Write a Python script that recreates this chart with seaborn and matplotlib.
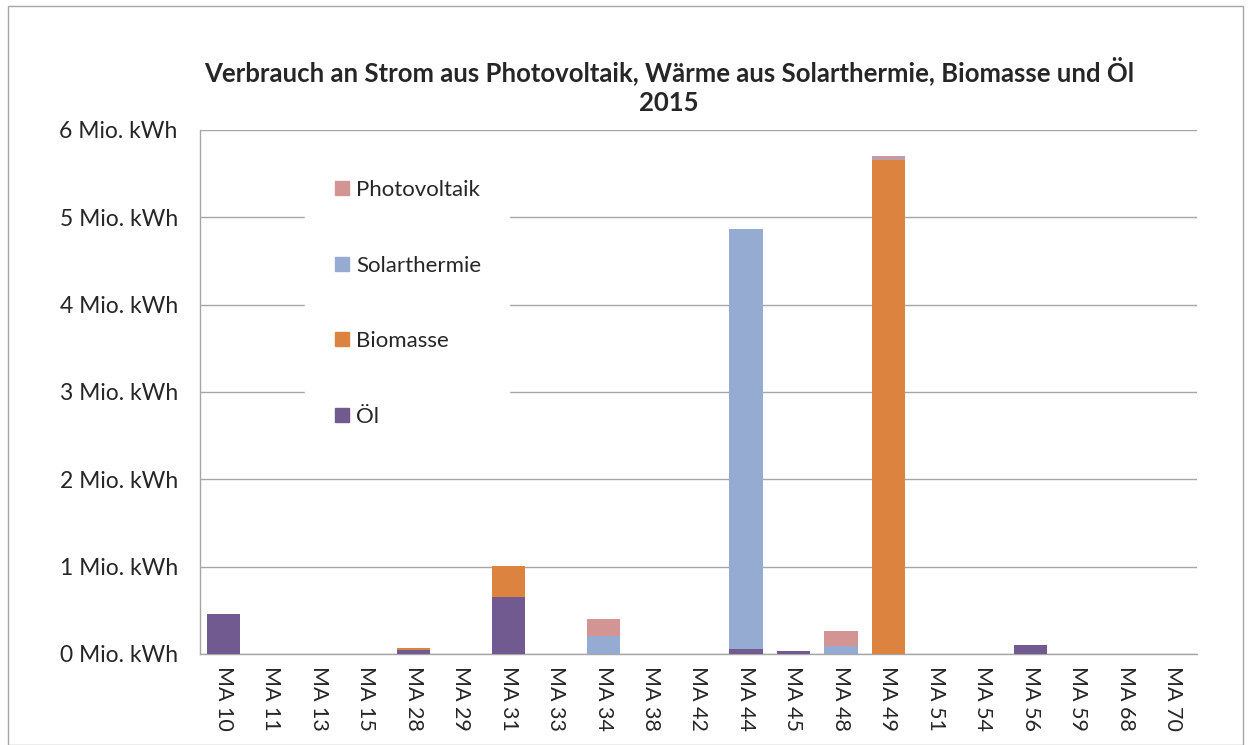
import matplotlib
matplotlib.use("Agg")
import matplotlib.pyplot as plt
from matplotlib.lines import Line2D
from matplotlib.patches import Rectangle
import seaborn as sns
import pandas as pd
import numpy as np

categories = ["MA 10", "MA 11", "MA 13", "MA 15", "MA 28", "MA 29", "MA 31", "MA 33",
              "MA 34", "MA 38", "MA 42", "MA 44", "MA 45", "MA 48", "MA 49", "MA 51",
              "MA 54", "MA 56", "MA 59", "MA 68", "MA 70"]
oel =          [0.46, 0, 0, 0, 0.05, 0, 0.65, 0, 0,    0, 0, 0.06, 0.04, 0,    0,    0, 0, 0.10, 0, 0, 0]
biomasse =     [0,    0, 0, 0, 0.02, 0, 0.36, 0, 0,    0, 0, 0,    0,    0,    5.66, 0, 0, 0,    0, 0, 0]
solarthermie = [0,    0, 0, 0, 0,    0, 0,    0, 0.21, 0, 0, 4.81, 0,    0.09, 0.01, 0, 0, 0,    0, 0, 0]
photovoltaik = [0,    0, 0, 0, 0,    0, 0,    0, 0.19, 0, 0, 0,    0,    0.17, 0.03, 0, 0, 0,    0, 0, 0]
yticks = [0, 1, 2, 3, 4, 5, 6]
ytick_labels = [f"{v} Mio. kWh" for v in yticks]
title = "Verbrauch an Strom aus Photovoltaik, Wärme aus Solarthermie, Biomasse und Öl\n2015"

colors = {"Öl": "#705A8F", "Biomasse": "#DC843F", "Solarthermie": "#95ABD2", "Photovoltaik": "#D39494"}

df = pd.DataFrame({"cat": categories, "Öl": oel, "Biomasse": biomasse,
                   "Solarthermie": solarthermie, "Photovoltaik": photovoltaik})
stack_order = ["Öl", "Biomasse", "Solarthermie", "Photovoltaik"]
cum = df[stack_order].cumsum(axis=1)

sns.set_style("white")
plt.rcParams["font.family"] = ["Lato", "DejaVu Sans"]

fig = plt.figure(figsize=(12.5, 7.45), dpi=100)
ax = fig.add_axes([200/1250, 1-654/745, 997/1250, 524/745])

for s in reversed(stack_order):
    sns.barplot(x=df["cat"], y=cum[s], color=colors[s], width=0.7, ax=ax,
                saturation=1, edgecolor="none", linewidth=0, zorder=3)

ax.set_ylim(0, 6)
ax.set_xlim(-0.5, len(categories) - 0.5)
ax.set_yticks(yticks)
ax.set_yticklabels(ytick_labels, fontsize=16.5)
ax.yaxis.grid(True, color="#A6A6A6", linewidth=1)
ax.set_axisbelow(True)
ax.set_xlabel("")
ax.set_ylabel("")
ax.set_xticks(range(len(categories)))
ax.set_xticklabels(categories, rotation=-90, fontsize=15.5)
ax.set_xticks(np.arange(-0.5, len(categories)), minor=True)
ax.tick_params(axis="x", which="major", length=0, pad=9)
ax.tick_params(axis="x", which="minor", length=7, color="#A6A6A6", width=1, direction="out")
ax.tick_params(axis="y", length=0, pad=16)
for side in ["top", "right"]:
    ax.spines[side].set_visible(False)
for side in ["left", "bottom"]:
    ax.spines[side].set_color("#A6A6A6")
    ax.spines[side].set_linewidth(1)

handles = [Line2D([], [], marker="s", linestyle="none", markersize=10.5,
                  markerfacecolor=colors[s], markeredgecolor=colors[s]) for s in reversed(stack_order)]
leg = ax.legend(handles, list(reversed(stack_order)), loc="upper left",
                bbox_to_anchor=(305/1250, 1-152/745), bbox_transform=fig.transFigure,
                frameon=True, fontsize=16, labelspacing=2.5, handlelength=0.8,
                handletextpad=0.25, borderpad=1.26, borderaxespad=0)
leg.get_frame().set_facecolor("white")
leg.get_frame().set_edgecolor("white")
leg.get_frame().set_alpha(1)
leg.set_zorder(5)

fig.text(669/1250, 1-86/745, title, ha="center", va="center", fontsize=18.5,
         fontweight="bold", linespacing=1.3)

fig.patches.append(Rectangle((8/1250, 0), 1235/1250, 1-6/745, transform=fig.transFigure,
                             fill=False, edgecolor="#A6A6A6", linewidth=1))

fig.savefig("out.png", dpi=100)
